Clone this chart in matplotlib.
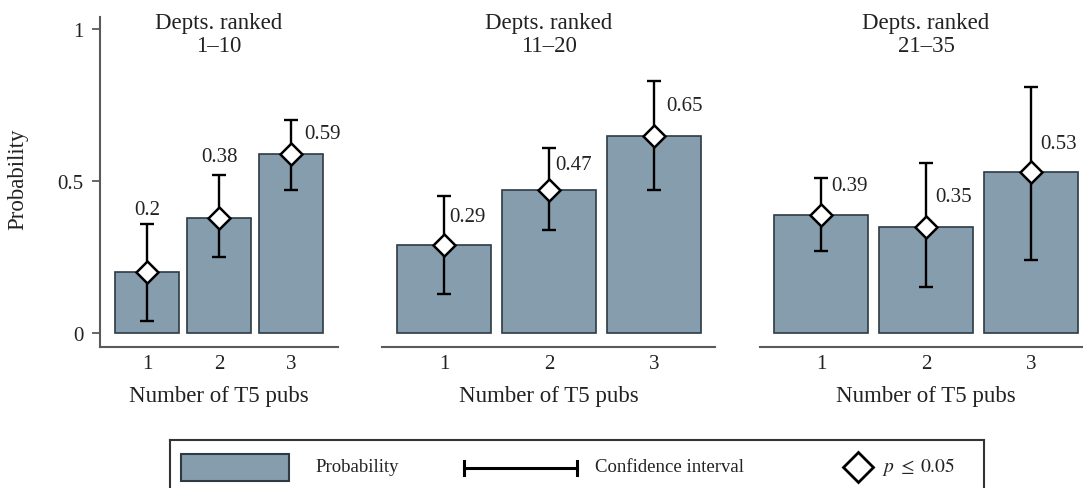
import matplotlib
matplotlib.use("Agg")
import matplotlib.pyplot as plt
from matplotlib.patches import Rectangle
from matplotlib.transforms import blended_transform_factory

plt.rcParams['font.family'] = ['Liberation Serif', 'DejaVu Serif']
plt.rcParams['mathtext.fontset'] = 'stix'

# ---------------- data ----------------
groups = ["1\u201310", "11\u201320", "21\u201335"]
pubs = [1, 2, 3]
prob_1_10 = [0.20, 0.38, 0.59]
prob_11_20 = [0.29, 0.47, 0.65]
prob_21_35 = [0.39, 0.35, 0.53]
ci_low_1_10 = [0.04, 0.25, 0.47]
ci_high_1_10 = [0.36, 0.52, 0.70]
ci_low_11_20 = [0.13, 0.34, 0.47]
ci_high_11_20 = [0.45, 0.61, 0.83]
ci_low_21_35 = [0.27, 0.15, 0.24]
ci_high_21_35 = [0.51, 0.56, 0.81]
value_labels_1_10 = ["0.2", "0.38", "0.59"]
value_labels_11_20 = ["0.29", "0.47", "0.65"]
value_labels_21_35 = ["0.39", "0.35", "0.53"]
yticks = [0, 0.5, 1]
ytick_labels = ["0", "0.5", "1"]

# ---------------- style / layout ----------------
BAR = "#869dad"
BAR_EDGE = "#2e3a44"
SPINE = "#5a5a5a"
W, H = 1083, 489

# axes boxes in pixels: (left, top, right, bottom)
boxes = [(100, 18, 338, 348), (382, 18, 715, 348), (760, 18, 1083, 348)]
xlims = [(0.35, 3.65), (0.41, 3.58), (0.42, 3.495)]
# label placement: (x offset in data units, y centre in data units, ha)
label_layout = [
    [(0.0, 0.405, 'center'), (0.0, 0.582, 'center'), (0.18, 0.655, 'left')],
    [(0.05, 0.385, 'left'), (0.06, 0.556, 'left'), (0.115, 0.75, 'left')],
    [(0.10, 0.487, 'left'), (0.085, 0.45, 'left'), (0.085, 0.625, 'left')],
]

panels = [
    (prob_1_10, ci_low_1_10, ci_high_1_10, value_labels_1_10),
    (prob_11_20, ci_low_11_20, ci_high_11_20, value_labels_11_20),
    (prob_21_35, ci_low_21_35, ci_high_21_35, value_labels_21_35),
]

fig = plt.figure(figsize=(W / 100, H / 100), dpi=100)

for i, (vals, lo, hi, labs) in enumerate(panels):
    l, t, r, b = boxes[i]
    ax = fig.add_axes([l / W, 1 - b / H, (r - l) / W, (b - t) / H])
    ax.bar(pubs, vals, width=0.89, color=BAR, edgecolor=BAR_EDGE, linewidth=1.2, zorder=2)
    yerr = [[v - a for v, a in zip(vals, lo)], [c - v for v, c in zip(vals, hi)]]
    ax.errorbar(pubs, vals, yerr=yerr, fmt='none', ecolor='black', elinewidth=1.7,
                capsize=5, capthick=1.7, zorder=3)
    ax.plot(pubs, vals, linestyle='none', marker='D', markersize=11,
            markerfacecolor='white', markeredgecolor='black', markeredgewidth=1.8, zorder=4)
    for x, lab, (dx, yy, ha) in zip(pubs, labs, label_layout[i]):
        ax.text(x + dx, yy, lab, ha=ha, va='center', fontsize=15, color='#222222', zorder=5)

    ax.set_xlim(*xlims[i])
    ax.set_ylim(-0.046, 1.04)
    ax.set_xticks(pubs)
    ax.set_xticklabels([str(p) for p in pubs], fontsize=15, color='#222222')
    ax.tick_params(axis='x', length=0, pad=5)
    for s in ['top', 'right']:
        ax.spines[s].set_visible(False)
    ax.spines['bottom'].set_color(SPINE)
    ax.spines['bottom'].set_linewidth(1.5)
    if i == 0:
        ax.spines['left'].set_color(SPINE)
        ax.spines['left'].set_linewidth(1.5)
        ax.set_yticks(yticks)
        ax.set_yticklabels(ytick_labels, fontsize=15, color='#222222')
        ax.tick_params(axis='y', length=6, width=1.3, color=SPINE, pad=6)
        ax.set_ylabel("Probability", fontsize=16.5, color='#222222')
        ax.yaxis.set_label_coords(-0.300, 0.512)
    else:
        ax.spines['left'].set_visible(False)
        ax.set_yticks([])

    bt = blended_transform_factory(ax.transData, ax.transAxes)
    ax.set_xlabel("Number of T5 pubs", fontsize=16.5, color='#222222')
    ax.xaxis.set_label_coords(2, -0.115, transform=bt)
    ax.text(2, 1.016, "Depts. ranked\n" + groups[i], transform=bt, ha='center', va='top',
            fontsize=16.5, linespacing=1.12, color='#222222')

# ---------------- legend (manual) ----------------
lx0, ly0, lx1, ly1 = 170, 441, 984, 493
lax = fig.add_axes([lx0 / W, 1 - ly1 / H, (lx1 - lx0) / W, (ly1 - ly0) / H])
lax.set_xlim(lx0, lx1)
lax.set_ylim(ly1, ly0)
lax.set_xticks([])
lax.set_yticks([])
for s in lax.spines.values():
    s.set_color('#333333')
    s.set_linewidth(1.5)
lax.add_patch(Rectangle((181, 455), 108, 27, facecolor=BAR, edgecolor=BAR_EDGE, linewidth=1.5))
lax.text(315, 468, "Probability", fontsize=13.5, va='center', ha='left', color='#222222')
lax.plot([464, 577], [469, 469], color='black', lw=2.2)
lax.plot([464, 464], [462, 476], color='black', lw=2.2)
lax.plot([577, 577], [462, 476], color='black', lw=2.2)
lax.text(595, 468, "Confidence interval", fontsize=13.5, va='center', ha='left', color='#222222')
lax.plot([858], [468], linestyle='none', marker='D', markersize=15,
         markerfacecolor='white', markeredgecolor='black', markeredgewidth=2)
lax.text(882, 467, r"$p\;\leq\;0.05$", fontsize=14, va='center', ha='left', color='#222222')

fig.savefig("out.png", dpi=100)
